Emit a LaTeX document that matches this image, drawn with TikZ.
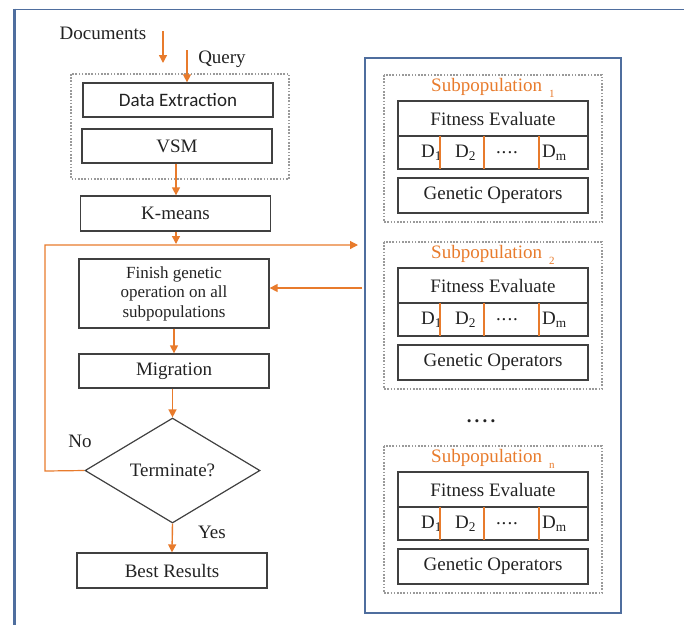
\documentclass[tikz,border=0pt]{standalone}
\usepackage{fontspec}
\setmainfont{Liberation Serif}
\newfontfamily\calib{Carlito}
\usetikzlibrary{shapes.geometric,arrows.meta}
\definecolor{orng}{HTML}{E87B2C}
\definecolor{frameblue}{HTML}{4F6E9E}
\definecolor{txt}{HTML}{222222}
\definecolor{dotgray}{HTML}{9A9A9A}
\tikzset{
  box/.style={draw=black!75, line width=1.3pt, rectangle, minimum width=190pt, inner sep=0pt, text=txt, font=\fontsize{19}{22}\selectfont, align=center},
  flow/.style={draw=orng, line width=1.4pt, -{Triangle[length=8pt,width=8pt]}},
  plain/.style={draw=orng, line width=1.2pt},
  dotbox/.style={draw=dotgray, line width=1.8pt, dash pattern=on 1.6pt off 1.6pt},
  lbl/.style={text=txt, font=\fontsize{19}{22}\selectfont, inner sep=0pt},
  divider/.style={draw=orng, line width=1.2pt},
}
\begin{document}
\begin{tikzpicture}[x=1pt,y=-1pt]
\useasboundingbox (0,0) rectangle (684,625);
% outer frame
\draw[frameblue, line width=0.8pt] (14,9) -- (684,9);
\draw[frameblue, line width=3pt] (14,8.6) -- (14,625);

% left flow
\node[lbl] (docs) at (103,33) {Documents};
\node[lbl] (query) at (222,59) {Query};
\draw[dotbox] (71,74) rectangle (289,179);
\node[box, minimum height=34pt, font=\calib\fontsize{19}{22}\selectfont] (de) at (178,100) {Data Extraction};
\node[box, minimum height=34pt] (vsm) at (177,146) {VSM};
\node[box, minimum height=35pt] (km) at (175.5,213.5) {K-means};
\node[box, minimum height=69pt, font=\fontsize{17}{19.5}\selectfont] (fin) at (174,293.5) {Finish genetic\\operation on all\\subpopulations};
\node[box, minimum height=34pt] (mig) at (174,371) {Migration};
\node[draw=black!75, line width=1.2pt, diamond, minimum width=175pt, minimum height=105pt, aspect=1.67, inner sep=0pt, text=txt, font=\fontsize{19}{22}\selectfont] (dia) at (172.5,470.5) {Terminate?};
\node[box, minimum height=35pt] (best) at (172,570.5) {Best Results};
\node[lbl] (no) at (80,441) {No};
\node[lbl] (yes) at (212,532) {Yes};

\coordinate (docsA) at (163,31);
\coordinate (docsB) at (163,63);
\coordinate (qA) at (187,50);
\coordinate (loopL) at (45,471);
\coordinate (loopT) at (45,245);
\coordinate (loopR) at (358,245);
\coordinate (kmEnd) at (176,244);
\coordinate (vsmX) at (176,0);
\coordinate (retA) at (362,288);

\draw[flow] (docsA) -- (docsB);
\draw[flow] (qA) -- (qA |- de.north);
\draw[flow] (vsm.south -| vsmX) -- (km.north -| vsmX);
\draw[flow] (km.south -| kmEnd) -- (kmEnd);
\draw[plain, -{Triangle[length=8pt,width=8pt]}] (dia.west) -- (loopL) -- (loopT) -- (loopR);
\draw[flow] (retA) -- (retA -| fin.east);
\draw[flow] (fin.south) -- (mig.north);
\draw[flow] (mig.south -| dia.north) -- (dia.north);
\draw[flow] (dia.south) -- (best.north);

% right side
\draw[frameblue, line width=2.4pt] (365,58) rectangle (621,613);
\node[lbl, font=\bfseries\fontsize{19}{22}\selectfont] (dots) at (481,421) {.\,.\,.\,.};

\foreach \off/\s in {0/1, 167/2, 371/n} {
  \begin{scope}[yshift=-\off pt]
    \draw[dotbox] (384,75) rectangle (602,222);
    \node[lbl, text=orng, anchor=west] (sp\s) at (431,88) {Subpopulation\hspace{7pt}\raisebox{-6pt}{\fontsize{11}{11}\selectfont \s}};
    \node[box, minimum height=35pt] (fe\s) at (493,118.5) {Fitness Evaluate};
    \node[box, minimum height=33pt] (dr\s) at (493,152.5) {};
    \node[lbl, anchor=west] (da\s) at (421,153) {D\textsubscript{1}};
    \node[lbl, anchor=west] (db\s) at (455,153) {D\textsubscript{2}};
    \node[lbl] (dc\s) at (507,153) {.\kern1pt.\kern1pt.\kern1pt.};
    \node[lbl, anchor=west] (dm\s) at (542,153) {D\textsubscript{m}};
    \draw[divider] (440,136) -- (440,169);
    \draw[divider] (484,136) -- (484,169);
    \draw[divider] (539,136) -- (539,169);
    \node[box, minimum height=35pt] (go\s) at (493,195.5) {Genetic Operators};
  \end{scope}
}
\end{tikzpicture}
\end{document}
